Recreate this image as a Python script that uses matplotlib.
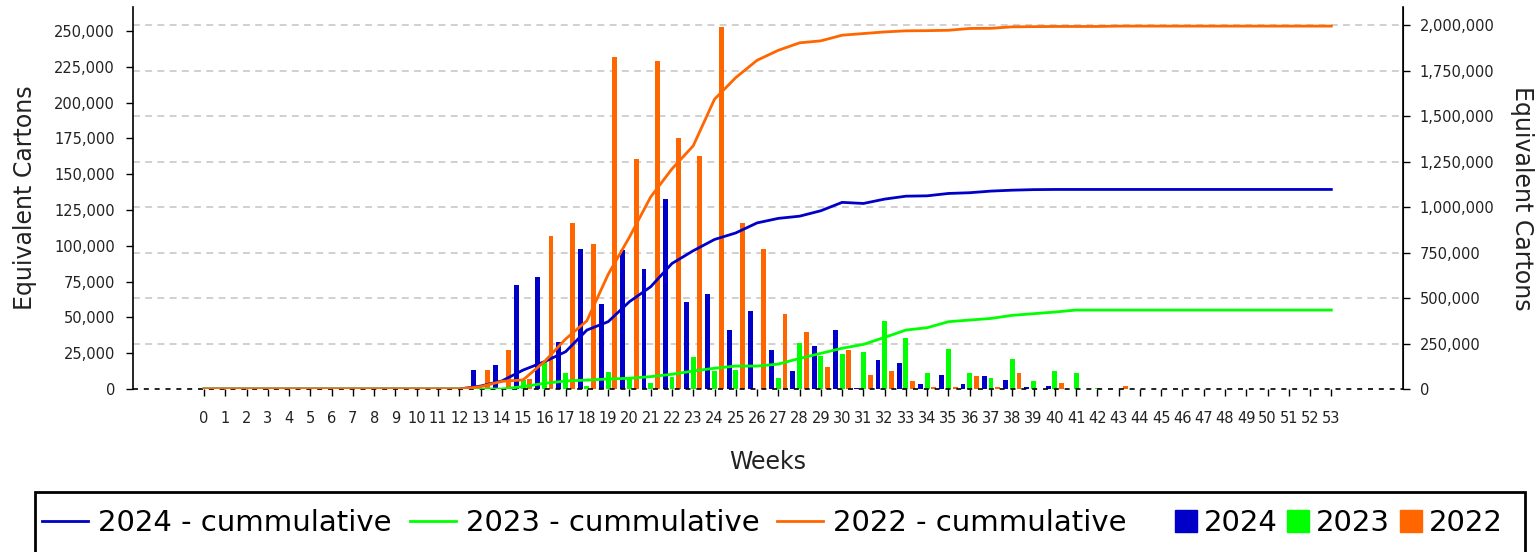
import numpy as np
import matplotlib
matplotlib.use("Agg")
import matplotlib.pyplot as plt
import matplotlib.transforms as mtransforms
from matplotlib.lines import Line2D
from matplotlib.patches import Patch, Rectangle
from matplotlib.ticker import FuncFormatter

weeks = np.arange(54)
series = ["2024", "2023", "2022"]

# weekly volumes, left axis (weeks 0..53)
vol_2024 = [0] * 13 + [13000, 17000, 72500, 78000, 33000, 98000, 59500, 97000, 84000, 133000,
                       61000, 66000, 41000, 54500, 27500, 12500, 30000, 41000, 500, 20000,
                       18000, 3500, 10000, 3500, 9000, 6500, 1400, 1800, 0, 0,
                       300, 0, 0, 0, 0, 0, 0, 0, 0, 0, 0]
vol_2023 = [0] * 13 + [0, 0, 6000, 19000, 11300, 2300, 12100, 7000, 4200, 8500,
                       22000, 12300, 13000, 0, 7700, 32100, 23200, 24400, 25600, 47700,
                       35600, 10900, 27900, 10900, 7700, 20900, 5900, 12300, 11200, 500,
                       0, 0, 0, 0, 0, 0, 0, 0, 0, 0, 0]
vol_2022 = [0] * 13 + [13000, 27000, 7000, 107000, 116000, 101500, 232000, 160500, 229000, 175500,
                       163000, 253000, 116000, 98000, 52500, 40000, 15600, 27400, 10000, 12300,
                       5800, 1200, 1200, 8800, 1200, 11200, 0, 4000, 0, 0,
                       2000, 0, 0, 0, 0, 0, 0, 0, 0, 0, 0]

# cumulative totals, right axis (weeks 0..53)
cum_2024 = [0] * 13 + [16000, 44000, 104000, 150000, 205000, 324000, 370000, 480000, 562000, 690000,
                       760000, 822000, 858000, 913000, 938000, 950000, 980000, 1026000, 1020000, 1044000,
                       1060000, 1062000, 1075000, 1079000, 1088000, 1093000, 1096000] + [1097000] * 14
cum_2023 = [0] * 15 + [13000, 31000, 44000, 49000, 55000, 59000, 68000, 81000,
                       99000, 114000, 126000, 126000, 137000, 168000, 196000, 224000, 245000, 284000,
                       324000, 337000, 370000, 379000, 388000, 405000, 414000, 423000] + [434000] * 13
cum_2022 = [0] * 13 + [13000, 42000, 50000, 150000, 275000, 375000, 630000, 835000, 1056000, 1210000,
                       1337000, 1593000, 1712000, 1807000, 1862000, 1903000, 1914000, 1945000, 1954000, 1963000,
                       1969000, 1970000, 1972000, 1982000, 1983000, 1991000, 1992000, 1993000, 1993000, 1993000] + [1995000] * 11

colors = ["#0000c8", "#00ff00", "#ff6600"]
text_col = "#222222"

fig = plt.figure(figsize=(15.4, 5.52), dpi=100)
ax = fig.add_axes([133 / 1540, 1 - 389 / 552, 1270 / 1540, 382 / 552])
ax2 = ax.twinx()

# bars: 2024 left, 2023 middle, 2022 right of each week
bw, off = 0.23, 0.315
for k, vals in enumerate([vol_2024, vol_2023, vol_2022]):
    ax.bar(weeks + (k - 1) * off, vals, bw, color=colors[k], zorder=2)

for k, vals in enumerate([cum_2024, cum_2023, cum_2022]):
    ax2.plot(weeks, vals, color=colors[k], lw=2, zorder=3)

ax.set_xlim(-3.34, 56.37)
ax.set_ylim(0, 266700)
ax2.set_ylim(0, 2100000)

# grid follows the right axis ticks, drawn under the bars
right_ticks = np.arange(0, 2000001, 250000)
trans = mtransforms.blended_transform_factory(ax.transAxes, ax2.transData)
for v in right_ticks[1:]:
    ax.add_line(Line2D([0, 1], [v, v], transform=trans, color="#c4c4c4", lw=1.1,
                       dashes=(4.5, 3.5), zorder=1))
ax.axhline(0, color="black", lw=1.2, dashes=(3, 3.5), zorder=4, clip_on=False)

for a in (ax, ax2):
    a.spines["top"].set_visible(False)
    a.spines["bottom"].set_visible(False)
ax2.spines["left"].set_visible(False)
ax.spines["left"].set_linewidth(1.2)
ax2.spines["right"].set_linewidth(1.2)

fmt = FuncFormatter(lambda v, p: f"{v:,.0f}")
ax.set_xticks(weeks)
ax.set_xticklabels([str(w) for w in weeks])
ax.set_yticks(np.arange(0, 250001, 25000))
ax.yaxis.set_major_formatter(fmt)
ax2.set_yticks(right_ticks)
ax2.yaxis.set_major_formatter(fmt)

ax.tick_params(axis="x", length=5, width=1, pad=11, labelsize=10.5, labelcolor=text_col)
ax.tick_params(axis="y", length=5, width=1, pad=8, labelsize=10.5, labelcolor=text_col)
ax2.tick_params(axis="y", length=5, width=1, pad=7, labelsize=10.5, labelcolor=text_col)

ax.set_ylabel("Equivalent Cartons", fontsize=17, labelpad=12, color=text_col)
ax2.set_ylabel("Equivalent Cartons", fontsize=17, rotation=270, va="bottom", labelpad=11, color=text_col)
ax.set_xlabel("Weeks", fontsize=17, labelpad=17, color=text_col)

# legend: lines and squares in one framed strip at the bottom
line_handles = [Line2D([], [], color=c, lw=2) for c in colors]
patch_handles = [Patch(color=c) for c in colors]
y_leg = 1 - 523 / 552
fig.legend(line_handles, [s + " - cummulative" for s in series], loc="center left",
           bbox_to_anchor=(42 / 1540, y_leg), ncol=3, frameon=False, fontsize=21,
           handlelength=1.58, handletextpad=0.34, columnspacing=0.62,
           borderpad=0, borderaxespad=0)
fig.legend(patch_handles, series, loc="center right",
           bbox_to_anchor=(1503 / 1540, y_leg), ncol=3, frameon=False, fontsize=21,
           handlelength=0.75, handleheight=0.8, handletextpad=0.24, columnspacing=0.34,
           borderpad=0, borderaxespad=0)
fig.add_artist(Rectangle((35 / 1540, -0.05), 1490 / 1540, 0.05 + 1 - 492 / 552,
                         transform=fig.transFigure, fill=False, edgecolor="black", lw=2))

fig.savefig("out.png", dpi=100)
